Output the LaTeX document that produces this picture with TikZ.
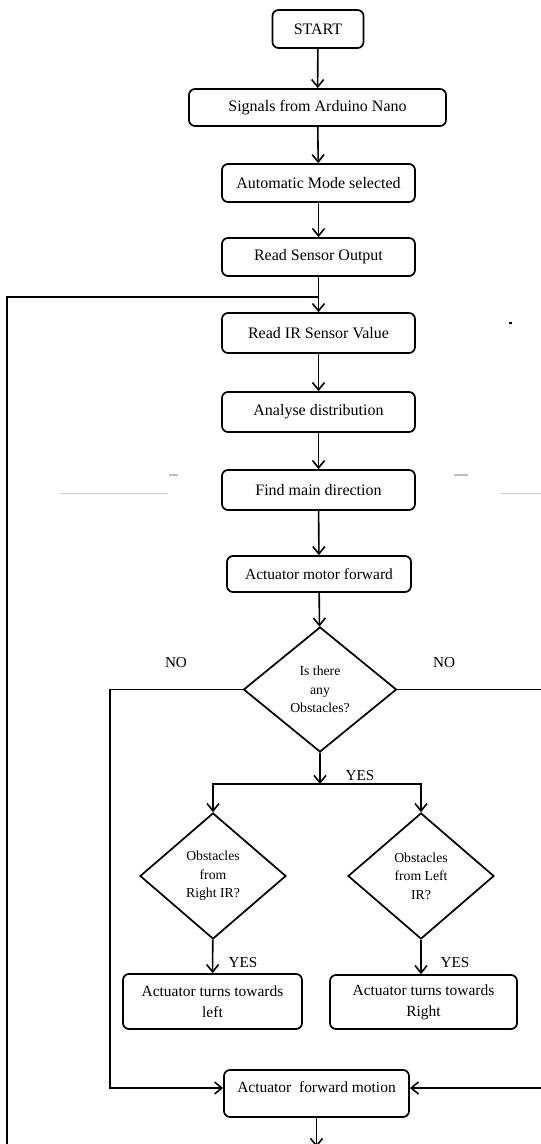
\documentclass[tikz,border=0pt]{standalone}
\usepackage{fontspec}
\setmainfont{Liberation Serif}
\usetikzlibrary{shapes.geometric,arrows.meta}
\tikzset{
  box/.style={draw, line width=1.3pt, rounded corners=4.5pt, inner sep=1pt, align=center,
              font=\fontsize{12}{14}\selectfont},
  tbox/.style={box, font=\fontsize{11.6}{15.5}\selectfont},
  dec/.style={draw, diamond, line width=1.3pt, inner sep=0pt, align=center,
              font=\fontsize{10.3}{13.75}\selectfont},
  lbl/.style={font=\fontsize{11.4}{13}\selectfont, inner sep=0pt},
  arr/.style={line width=1.2pt, -{Straight Barb[length=5.5pt,width=9pt,line width=1.2pt]}},
  ln/.style={line width=1.2pt},
  faint/.style={draw=black!18, line width=0.6pt}
}
\begin{document}
\begin{tikzpicture}[x=0.75pt,y=-0.75pt]
\useasboundingbox (0,0) rectangle (541,1144);
% process boxes
\node[box, minimum width=68.25pt, minimum height=28.5pt] (start) at (318,29) {START};
\node[box, minimum width=192.75pt, minimum height=27.75pt] (sig) at (317.5,107.5) {Signals from Arduino Nano};
\node[box, minimum width=144.75pt, minimum height=28.5pt] (auto) at (318.5,183) {Automatic Mode selected};
\node[box, minimum width=144.75pt, minimum height=28.5pt] (rso) at (318.5,257) {Read Sensor Output};
\node[box, minimum width=144.75pt, minimum height=30pt] (rir) at (318.5,333) {Read IR Sensor Value};
\node[box, minimum width=144.75pt, minimum height=30pt] (ana) at (318.5,412) {Analyse distribution};
\node[box, minimum width=144.75pt, minimum height=30pt] (fmd) at (318.5,490) {Find main direction};
\node[box, minimum width=138pt, minimum height=27pt, font=\fontsize{11.6}{14}\selectfont] (amf) at (319,574) {Actuator motor forward};
% decisions
\node[dec, minimum width=114.75pt, minimum height=93.75pt] (d1) at (320,689.5) {Is there\\any\\Obstacles?};
\node[dec, minimum width=109.5pt, minimum height=94.5pt] (d2) at (213,876) {Obstacles\\from\\Right IR?};
\node[dec, minimum width=109.5pt, minimum height=94.5pt] (d3) at (421,876) {Obstacles\\from Left\\IR?};
% turn boxes
\node[tbox, minimum width=134.25pt, minimum height=41.25pt] (tl) at (212.5,1001.5) {Actuator turns towards\\left};
\node[tbox, minimum width=140.25pt, minimum height=40.5pt] (tr) at (423.5,1002) {Actuator turns towards\\Right};
% final box
\node[box, minimum width=138.75pt, minimum height=35.25pt] (afm) at (316.5,1093.5) {};
\node[font=\fontsize{11.6}{14}\selectfont, inner sep=0pt] (afmt) at (316.5,1087) {Actuator\ \ forward motion};
% labels
\node[lbl] (no1) at (176,663) {NO};
\node[lbl] (no2) at (444,663) {NO};
\node[lbl] (y1) at (360,776) {YES};
\node[lbl] (y2) at (243,963) {YES};
\node[lbl] (y3) at (455,963) {YES};
% coordinates
\coordinate (j) at (319,297);
\coordinate (lt) at (7,297);
\coordinate (lb) at (7,1147);
\coordinate (bot) at (317,1147);
\coordinate (yj) at (320,784);
\coordinate (nl) at (110,1088);
\coordinate (nr) at (546,1088);
% connectors
\draw[arr] (start) -- (sig);
\draw[arr] (sig) -- (auto);
\draw[arr] (auto) -- (rso);
\draw[arr] (rso) -- (rir);
\draw[arr] (rir) -- (ana);
\draw[arr] (ana) -- (fmd);
\draw[arr] (fmd) -- (amf);
\draw[arr] (amf) -- (d1);
\draw[ln] (bot) -- (lb) -- (lt) -- (j);
\draw[arr] (d1.south) -- (yj);
\draw[arr] (yj) -| (d2.north);
\draw[arr] (yj) -| (d3.north);
\draw[arr] (d2) -- (tl);
\draw[arr] (d3.south) -- (d3.south |- tr.north);
\draw[arr] (d1.west) -| (nl) -- (nl -| afm.west);
\draw[arr] (d1.east) -| (nr) -- (nr -| afm.east);
\draw[arr] (afm.south) -- (afm.south |- bot);
% faint scan marks
\draw[faint] (59,493) -- (168,493);
\draw[faint] (500,493) -- (541,493);
\draw[draw=black!25, line width=1.2pt] (169,475) -- (178,475);
\draw[draw=black!25, line width=1.2pt] (454,475) -- (468,475);
\fill (508.5,322) rectangle (511.5,324.5);
\end{tikzpicture}
\end{document}
